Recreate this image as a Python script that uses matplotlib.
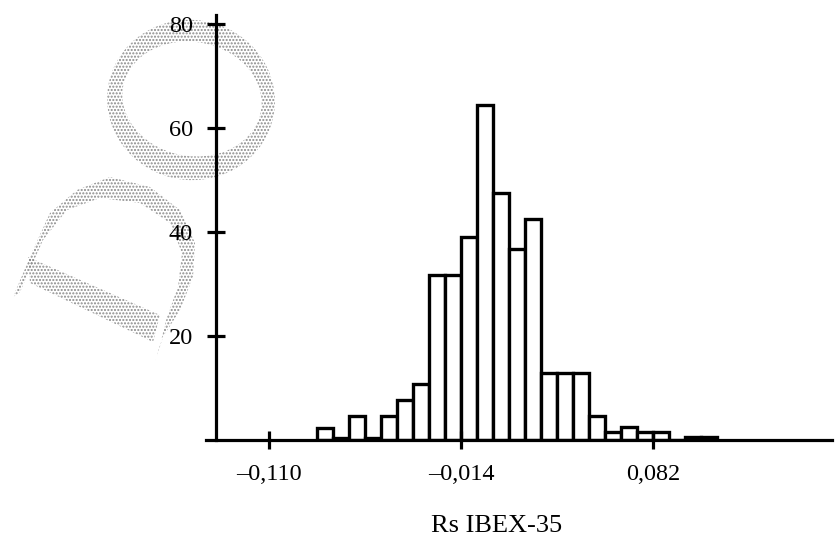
import matplotlib.pyplot as plt
import matplotlib.patches as mpatches
import numpy as np

# histogram data (bin left edges and bar heights)
bin_left = [-0.086, -0.078, -0.070, -0.062, -0.054, -0.046, -0.038, -0.030,
            -0.022, -0.014, -0.006, 0.002, 0.010, 0.018, 0.026, 0.034,
            0.042, 0.050, 0.058, 0.066, 0.074, 0.082, 0.090, 0.098, 0.106]
heights = [2.4, 0.45, 4.6, 0.45, 4.6, 7.7, 10.7, 31.8,
           31.7, 39.0, 64.4, 47.5, 36.8, 42.5, 12.8, 12.8,
           12.8, 4.6, 1.6, 2.5, 1.6, 1.6, 0.0, 0.5, 0.5]
bin_width = 0.008

xticks = [-0.110, -0.014, 0.082]
xticklabels = ['–0,110', '–0,014', '0,082']
yticks = [20, 40, 60, 80]
yticklabels = ['20', '40', '60', '80']

plt.rcParams['font.family'] = ['Liberation Serif', 'DejaVu Serif']
plt.rcParams['hatch.linewidth'] = 1.0

W, H = 836, 545
fig = plt.figure(figsize=(W / 100, H / 100), dpi=100)

# watermark layer, in pixel coordinates
wm = fig.add_axes([0, 0, 1, 1], zorder=-1)
wm.set_xlim(0, W)
wm.set_ylim(H, 0)
wm.axis('off')
hatch_kw = dict(facecolor='none', edgecolor='#8a8a8a', linewidth=0, hatch='.....')
wm.add_patch(mpatches.Ellipse((191, 100), 168, 160, angle=10, **hatch_kw))
wm.add_patch(mpatches.Ellipse((192, 99), 140, 114, angle=10, facecolor='white', edgecolor='none'))
arc_outer = [(13, 297), (33, 250), (50, 213), (77, 190), (110, 177), (150, 187),
             (180, 210), (195, 243), (193, 277), (180, 310), (163, 337), (155, 362)]
arc_inner = [(160, 345), (167, 317), (178, 287), (182, 253), (170, 223), (140, 203),
             (100, 198), (67, 210), (43, 240), (20, 292)]
wm.add_patch(mpatches.Polygon(arc_outer + arc_inner, closed=True, **hatch_kw))
wm.add_patch(mpatches.Polygon([(28, 257), (160, 315), (153, 342), (30, 283)], closed=True, **hatch_kw))

ax = fig.add_axes([206 / W, 1 - 440 / H, 626 / W, 425 / H])
ax.patch.set_alpha(0)
ax.bar(bin_left, heights, width=bin_width, align='edge',
       facecolor='white', edgecolor='black', linewidth=2.4)

ax.set_xlim(-0.1415, 0.1715)
ax.set_ylim(0, 81.7)
ax.spines['top'].set_visible(False)
ax.spines['right'].set_visible(False)
ax.spines['left'].set_position(('data', -0.1365))
ax.spines['left'].set_linewidth(2.3)
ax.spines['bottom'].set_linewidth(2.3)

ax.set_xticks(xticks)
ax.set_xticklabels(xticklabels)
ax.set_yticks(yticks)
ax.set_yticklabels(yticklabels)
ax.tick_params(direction='inout', length=13, width=2.3, labelsize=17.5)
ax.tick_params(axis='x', pad=11)
ax.tick_params(axis='y', pad=10)

ax.set_xlabel('Rs IBEX-35', fontsize=19)
ax.xaxis.label.set_va('baseline')
ax.xaxis.set_label_coords((497 - 206) / 626, (440 - 532) / 425)

fig.savefig('out.png', dpi=100)
